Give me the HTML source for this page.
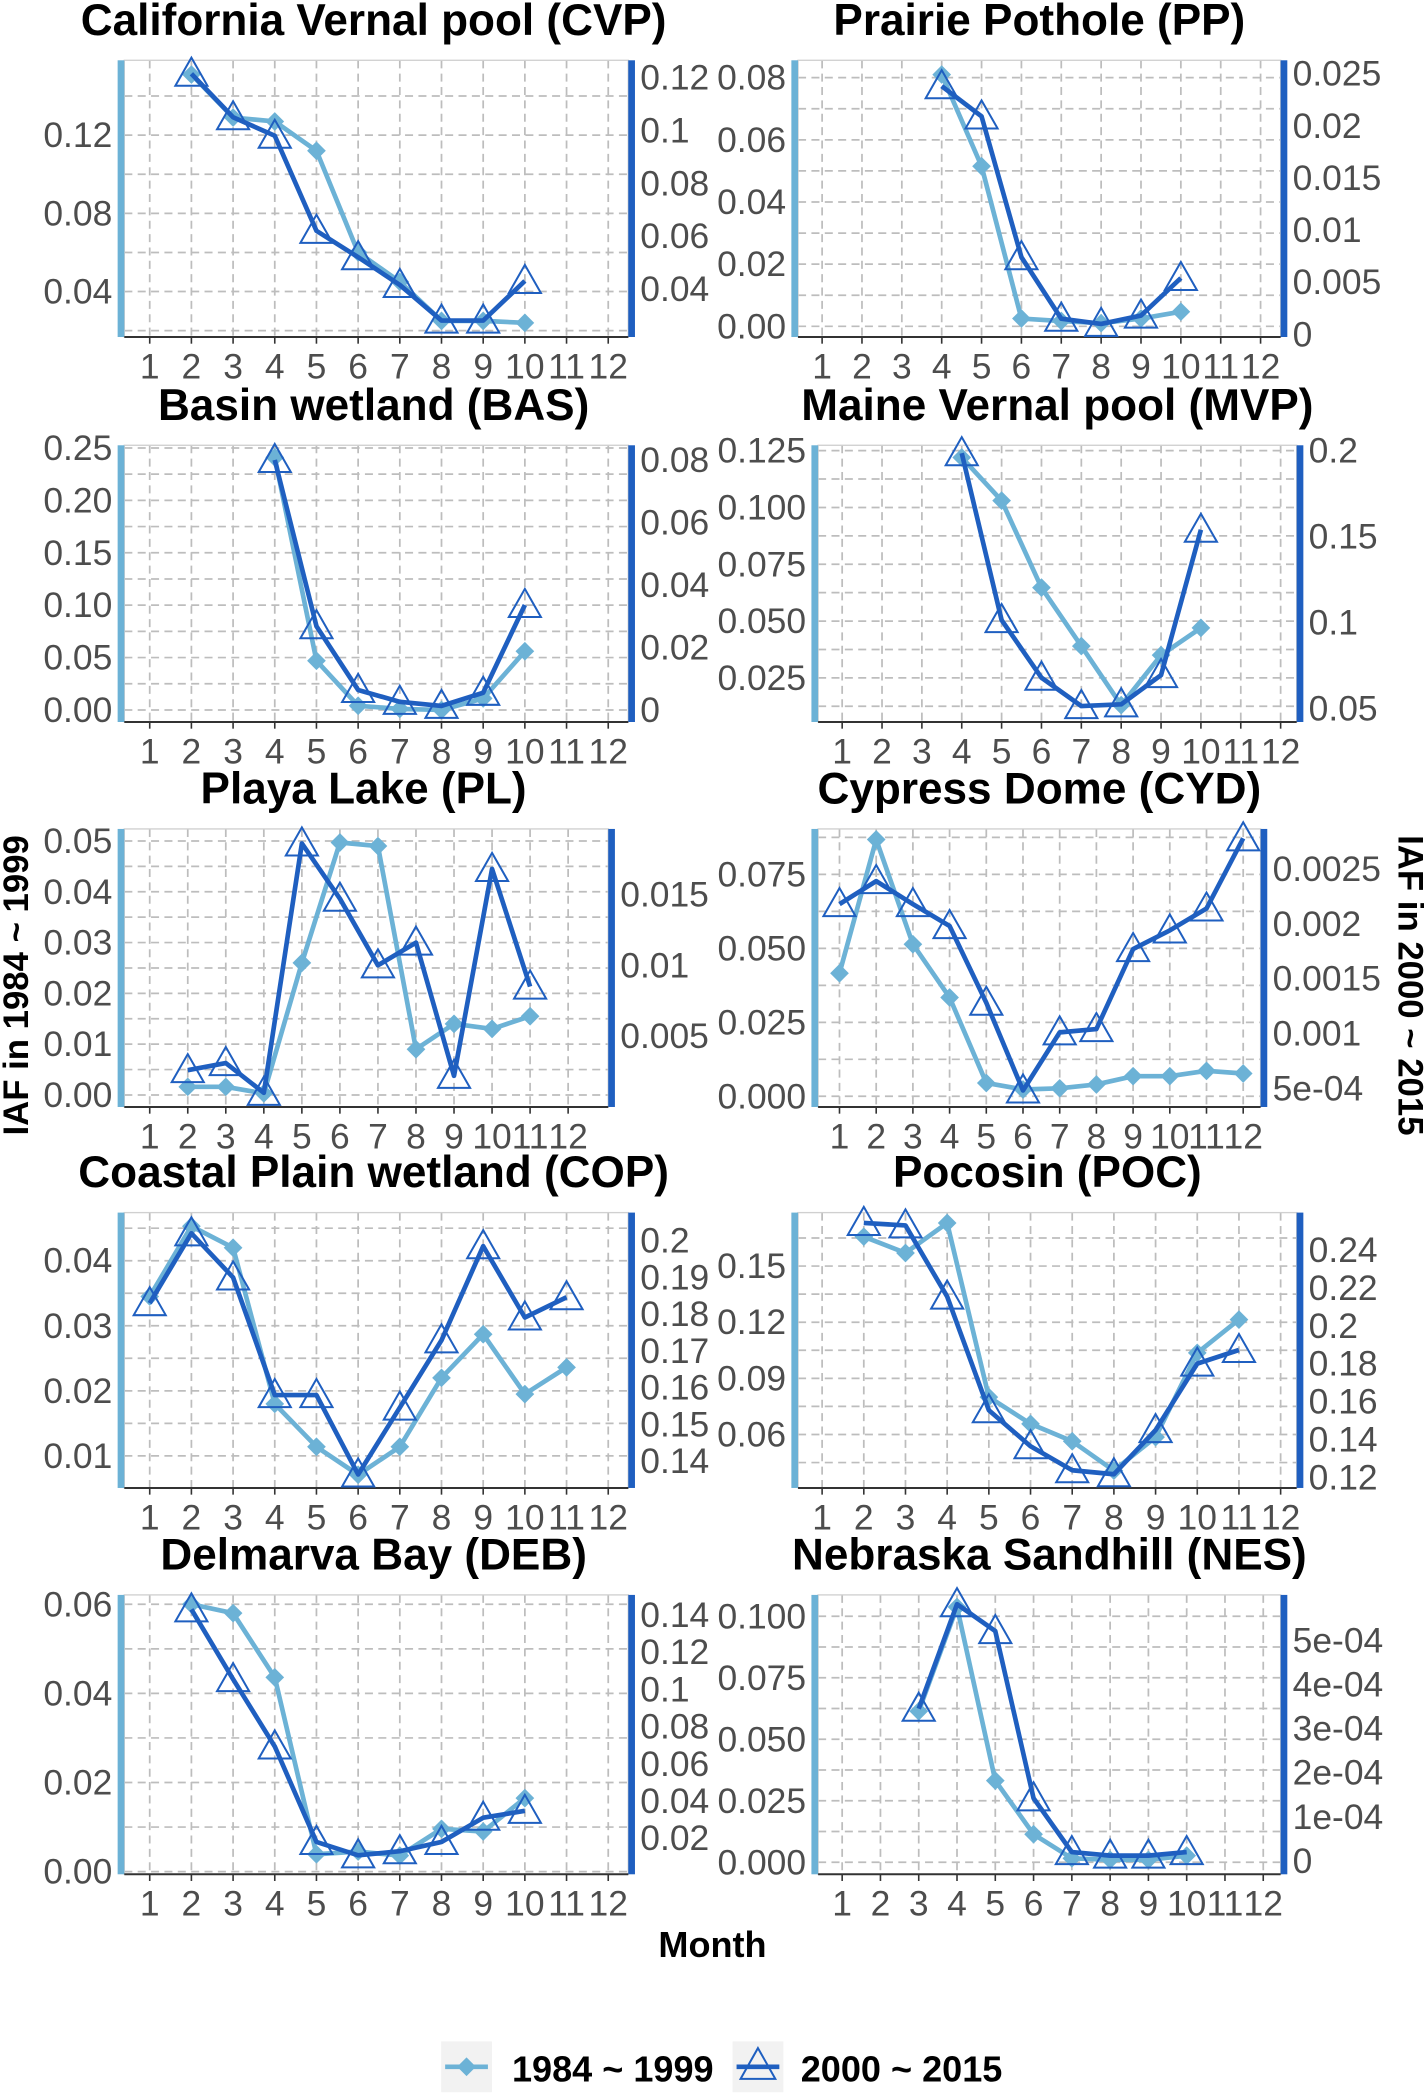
<!DOCTYPE html>
<html><head><meta charset="utf-8">
<style>
html,body{margin:0;padding:0;background:#fff;}
svg{display:block;}
text{font-family:"Liberation Sans",Arial,sans-serif;}
</style></head>
<body>
<svg id="chart" width="1425" height="2095" viewBox="0 0 1066 1567" xmlns="http://www.w3.org/2000/svg"></svg>
<script>
const months=[1,2,3,4,5,6,7,8,9,10,11,12];
const monthLabels=["1","2","3","4","5","6","7","8","9","10","11","12"];
const titles=["California Vernal pool (CVP)","Prairie Pothole (PP)","Basin wetland (BAS)","Maine Vernal pool (MVP)","Playa Lake (PL)","Cypress Dome (CYD)","Coastal Plain wetland (COP)","Pocosin (POC)","Delmarva Bay (DEB)","Nebraska Sandhill (NES)"];
const startMonths=[2,4,4,4,2,1,1,2,2,3];
const cvpLight=[0.151,0.129,0.127,0.112,0.06,0.045,0.025,0.025,0.024];
const cvpDark=[0.1215,0.105,0.098,0.062,0.052,0.0415,0.028,0.028,0.043];
const ppLight=[0.081,0.0515,0.0025,0.0017,0.001,0.0025,0.0047];
const ppDark=[0.0238,0.0209,0.0074,0.0015,0.001,0.0018,0.0054];
const basLight=[0.241,0.047,0.004,0.001,0,0.011,0.056];
const basDark=[0.080,0.0268,0.0064,0.0026,0.0013,0.0055,0.0336];
const mvpLight=[0.122,0.103,0.0647,0.039,0.013,0.035,0.047];
const mvpDark=[0.1985,0.1015,0.068,0.0515,0.0525,0.0695,0.154];
const plLight=[0.0016,0.0016,0.0003,0.026,0.0497,0.049,0.009,0.014,0.013,0.0155];
const plDark=[0.0026,0.0031,0.001,0.0186,0.0147,0.0100,0.0116,0.0022,0.0168,0.0085];
const cydLight=[0.0416,0.0868,0.0514,0.0334,0.0045,0.0023,0.0027,0.004,0.0068,0.0068,0.0086,0.0077];
const cydDark=[0.00218,0.00239,0.00218,0.00198,0.00128,0.00048,0.00101,0.00104,0.00177,0.00194,0.00214,0.00278];
const copLight=[0.0345,0.0453,0.042,0.018,0.0114,0.0071,0.0114,0.022,0.0287,0.0195,0.0236];
const copDark=[0.183,0.202,0.190,0.158,0.158,0.1364,0.1546,0.1729,0.1985,0.1791,0.1846];
const pocLight=[0.1657,0.157,0.173,0.08,0.0657,0.0564,0.0407,0.0586,0.1036,0.1214];
const pocDark=[0.2543,0.253,0.2154,0.1554,0.1364,0.1237,0.1216,0.1449,0.18,0.1872];
const debLight=[0.06,0.058,0.0436,0.0039,0.0045,0.0036,0.0096,0.009,0.0165];
const debDark=[0.143,0.1055,0.0693,0.018,0.0108,0.013,0.018,0.031,0.0347];
const nesLight=[0.0614,0.1038,0.0332,0.0114,0.0016,0.001,0.001,0.0027];
const nesDark=[0.000345,0.000582,0.000521,0.000142,0.00002,0.000012,0.000012,0.00002];
const lightSeries=[cvpLight,ppLight,basLight,mvpLight,plLight,cydLight,copLight,pocLight,debLight,nesLight];
const darkSeries=[cvpDark,ppDark,basDark,mvpDark,plDark,cydDark,copDark,pocDark,debDark,nesDark];
const leftTicks=[[0.04,0.08,0.12],[0,0.02,0.04,0.06,0.08],[0,0.05,0.1,0.15,0.2,0.25],[0.025,0.05,0.075,0.1,0.125],[0,0.01,0.02,0.03,0.04,0.05],[0,0.025,0.05,0.075],[0.01,0.02,0.03,0.04],[0.06,0.09,0.12,0.15],[0,0.02,0.04,0.06],[0,0.025,0.05,0.075,0.1]];
const leftTickLabels=[["0.04","0.08","0.12"],["0.00","0.02","0.04","0.06","0.08"],["0.00","0.05","0.10","0.15","0.20","0.25"],["0.025","0.050","0.075","0.100","0.125"],["0.00","0.01","0.02","0.03","0.04","0.05"],["0.000","0.025","0.050","0.075"],["0.01","0.02","0.03","0.04"],["0.06","0.09","0.12","0.15"],["0.00","0.02","0.04","0.06"],["0.000","0.025","0.050","0.075","0.100"]];
const rightTicks=[[0.04,0.06,0.08,0.1,0.12],[0,0.005,0.01,0.015,0.02,0.025],[0,0.02,0.04,0.06,0.08],[0.05,0.1,0.15,0.2],[0.005,0.01,0.015],[0.0005,0.001,0.0015,0.002,0.0025],[0.14,0.15,0.16,0.17,0.18,0.19,0.2],[0.12,0.14,0.16,0.18,0.2,0.22,0.24],[0.02,0.04,0.06,0.08,0.1,0.12,0.14],[0,0.0001,0.0002,0.0003,0.0004,0.0005]];
const rightTickLabels=[["0.04","0.06","0.08","0.1","0.12"],["0","0.005","0.01","0.015","0.02","0.025"],["0","0.02","0.04","0.06","0.08"],["0.05","0.1","0.15","0.2"],["0.005","0.01","0.015"],["5e-04","0.001","0.0015","0.002","0.0025"],["0.14","0.15","0.16","0.17","0.18","0.19","0.2"],["0.12","0.14","0.16","0.18","0.2","0.22","0.24"],["0.02","0.04","0.06","0.08","0.1","0.12","0.14"],["0","1e-04","2e-04","3e-04","4e-04","5e-04"]];

// layout (pixel geometry only)
const rowTop=[45,333,620,907,1193], rowBot=[252,540,828,1113,1402];
const layout=[
 {x0:93,x1:470,m1:112,m12:455,L:[0.04,218,0.12,101],R:[0.04,216,0.12,58]},
 {x0:597,x1:958,m1:615,m12:943,L:[0,244,0.08,58],R:[0,250,0.025,55]},
 {x0:93,x1:470,m1:112,m12:455,L:[0,531,0.25,335],R:[0,531,0.08,344]},
 {x0:612,x1:970,m1:630,m12:958,L:[0.025,507,0.125,337],R:[0.05,530,0.2,337]},
 {x0:93,x1:455,m1:112,m12:425,L:[0,819,0.05,629],R:[0.005,775,0.015,669]},
 {x0:612,x1:943,m1:628,m12:930,L:[0,820,0.075,654],R:[0.0005,814,0.0025,650]},
 {x0:93,x1:470,m1:112,m12:455,L:[0.01,1089,0.04,943],R:[0.14,1093,0.2,928]},
 {x0:597,x1:970,m1:615,m12:958,L:[0.06,1073,0.15,947],R:[0.12,1105,0.24,935]},
 {x0:93,x1:470,m1:112,m12:455,L:[0,1400,0.06,1200],R:[0.02,1375,0.14,1208]},
 {x0:612,x1:958,m1:630,m12:945,L:[0,1393,0.1,1209],R:[0,1392,0.0005,1227]}
];
const LIGHT="#6cb2d6", DARK="#1f5fc0", NS="http://www.w3.org/2000/svg";
const TICK=26.5;
const svg=document.getElementById('chart');
function mk(tag,attrs,parent){const e=document.createElementNS(NS,tag);for(const k in attrs)e.setAttribute(k,attrs[k]);(parent||svg).appendChild(e);return e;}
function lin(m){return v=>m[1]+(v-m[0])*(m[3]-m[1])/(m[2]-m[0]);}

titles.forEach((t,i)=>{
 const lay=layout[i], r=Math.floor(i/2), top=rowTop[r], bot=rowBot[r];
 const g=mk('g',{});
 
 
 const xs=m=>lay.m1+(m-1)*(lay.m12-lay.m1)/11;
 const yL=lin(lay.L), yR=lin(lay.R);
 const lt=leftTicks[i];
 const gridVals=[];
 lt.forEach((v,k)=>{gridVals.push(v);if(k<lt.length-1)gridVals.push((v+lt[k+1])/2);});
 if(lt.length>1){const st=lt[1]-lt[0];gridVals.push(lt[0]-st/2,lt[lt.length-1]+st/2);}
 gridVals.forEach(v=>{const y=yL(v);if(y>top&&y<bot){const l=mk('line',{x1:lay.x0,x2:lay.x1,y1:y,y2:y,stroke:'#bdbdbd','stroke-width':1.3,'stroke-dasharray':'6,4'},g);}});
 months.forEach(m=>{const x=xs(m);const l=mk('line',{x1:x,x2:x,y1:top,y2:bot,stroke:'#bdbdbd','stroke-width':1.3,'stroke-dasharray':'6,4'},g);});
 mk('rect',{x:lay.x0,y:top,width:lay.x1-lay.x0,height:bot-top,fill:'none',stroke:'#d0d0d0','stroke-width':1},g);
 const la=mk('rect',{x:lay.x0-5,y:top,width:5,height:bot-top,fill:LIGHT},g);
 const ra=mk('rect',{x:lay.x1,y:top,width:5,height:bot-top,fill:DARK},g);
 mk('line',{x1:lay.x0,x2:lay.x1,y1:bot,y2:bot,stroke:'#333','stroke-width':1.5},g);
 lt.forEach((v,k)=>{const y=yL(v);const tx=mk('text',{x:lay.x0-9,y:y+9,'text-anchor':'end','font-size':TICK,fill:'#4d4d4d'},g);tx.textContent=leftTickLabels[i][k];});
 rightTicks[i].forEach((v,k)=>{const y=yR(v);const tx=mk('text',{x:lay.x1+9,y:y+9,'text-anchor':'start','font-size':TICK,fill:'#4d4d4d'},g);tx.textContent=rightTickLabels[i][k];});
 months.forEach((m,k)=>{const x=xs(m);mk('line',{x1:x,x2:x,y1:bot,y2:bot+5,stroke:'#333','stroke-width':1.2},g);const tx=mk('text',{x:x,y:bot+31,'text-anchor':'middle','font-size':TICK,fill:'#4d4d4d'},g);tx.textContent=monthLabels[k];});
 const tt=mk('text',{x:(lay.x0+lay.x1)/2+(i%2?0:-2),y:top-19,'text-anchor':'middle','font-size':33,'font-weight':'bold',fill:'#000'},g);tt.textContent=t;
 const s0=startMonths[i];
 const lp=lightSeries[i].map((v,k)=>[xs(s0+k),yL(v)]);
 const dp=darkSeries[i].map((v,k)=>[xs(s0+k),yR(v)]);
 const l1=mk('polyline',{points:lp.map(p=>p.join(',')).join(' '),fill:'none',stroke:LIGHT,'stroke-width':3.5,'stroke-linejoin':'round'},g);
 lp.forEach(p=>{const d=mk('polygon',{points:`${p[0]},${p[1]-7} ${p[0]+7},${p[1]} ${p[0]},${p[1]+7} ${p[0]-7},${p[1]}`,fill:LIGHT},g);});
 const l2=mk('polyline',{points:dp.map(p=>p.join(',')).join(' '),fill:'none',stroke:DARK,'stroke-width':3.5,'stroke-linejoin':'round'},g);
 dp.forEach(p=>{const d=mk('polygon',{points:`${p[0]},${p[1]-12} ${p[0]+12},${p[1]+9} ${p[0]-12},${p[1]+9}`,fill:'none',stroke:DARK,'stroke-width':1.5},g);});
});
let e=mk('text',{x:0,y:0,transform:'translate(21,737) rotate(-90)','text-anchor':'middle','font-size':26,'font-weight':'bold'});e.textContent='IAF in 1984 ~ 1999';
e=mk('text',{x:0,y:0,transform:'translate(1046,737) rotate(90)','text-anchor':'middle','font-size':26,'font-weight':'bold'});e.textContent='IAF in 2000 ~ 2015';
e=mk('text',{x:533,y:1464,'text-anchor':'middle','font-size':27,'font-weight':'bold'});e.textContent='Month';
const lg=mk('g',{});
mk('rect',{x:330,y:1527,width:38,height:38,fill:'#f2f2f2'},lg);
mk('line',{x1:333,x2:365,y1:1546,y2:1546,stroke:LIGHT,'stroke-width':3.5},lg);
mk('polygon',{points:'349,1539 356,1546 349,1553 342,1546',fill:LIGHT},lg);
e=mk('text',{x:383,y:1557,'font-size':27,'font-weight':'bold'},lg);e.textContent='1984 ~ 1999';
mk('rect',{x:548,y:1527,width:38,height:38,fill:'#f2f2f2'},lg);
mk('line',{x1:551,x2:583,y1:1546,y2:1546,stroke:DARK,'stroke-width':3.5},lg);
mk('polygon',{points:'567,1532 580,1555 554,1555',fill:'none',stroke:DARK,'stroke-width':1.5},lg);
e=mk('text',{x:599,y:1557,'font-size':27,'font-weight':'bold'},lg);e.textContent='2000 ~ 2015';
</script>
</body></html>
